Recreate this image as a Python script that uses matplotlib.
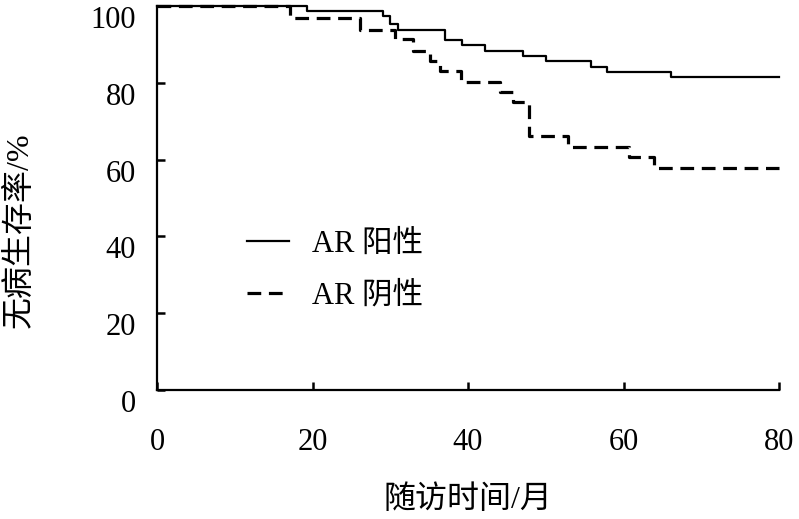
import numpy as np
import matplotlib
matplotlib.use("Agg")
import matplotlib.pyplot as plt
import matplotlib.transforms as mtransforms

plt.rcParams['font.family'] = ['Liberation Serif', 'Noto Sans CJK SC']

# Kaplan-Meier steps (months, survival %)
pos_time = [0, 19.3, 29.1, 30.0, 31.0, 37.0, 39.2, 42.2, 47.1, 50.0, 55.8, 57.9, 66.1, 80]
pos_surv = [100, 98.7, 97.5, 95.3, 93.8, 91.2, 89.9, 88.3, 87.1, 85.7, 84.2, 82.8, 81.4, 81.4]

neg_time = [0, 17.1, 26.1, 30.6, 32.9, 35.1, 36.4, 39.1, 44.1, 45.8, 47.8, 52.9, 60.7, 63.9, 80]
neg_surv = [100, 96.8, 93.8, 91.3, 88.3, 85.7, 83.0, 80.3, 77.5, 74.9, 66.2, 63.4, 60.8, 57.8, 57.8]

x_ticks = [0, 20, 40, 60, 80]
y_ticks = [0, 20, 40, 60, 80, 100]

fig = plt.figure(figsize=(7.99, 5.19), dpi=100)
ax = fig.add_axes([157/799, 1 - 390/519, 622/799, 384/519])

ax.step(pos_time, pos_surv, where="post", color="black", lw=1.6,
        label="AR 阳性", clip_on=False)
ax.step(neg_time, neg_surv, where="post", color="black", lw=2.3,
        dashes=(4.3, 2.4), label="AR 阴性", clip_on=False)

ax.set_xlim(0, 80)
ax.set_ylim(0, 100)
ax.set_xticks(x_ticks)
ax.set_yticks(y_ticks)

for s in ["top", "right"]:
    ax.spines[s].set_visible(False)
for s in ["left", "bottom"]:
    ax.spines[s].set_linewidth(1.6)

ax.tick_params(axis="both", direction="in", length=6, width=1.8, labelsize=22)
ax.tick_params(axis="x", pad=27)
ax.tick_params(axis="y", pad=15)

# y tick labels sit a bit below their ticks in the original
offset = mtransforms.ScaledTranslation(0, -11/100, fig.dpi_scale_trans)
for lab in ax.get_yticklabels():
    lab.set_transform(lab.get_transform() + offset)

ax.set_xlabel("随访时间/月", fontsize=23, labelpad=21)
ax.set_ylabel("无病生存率/%", fontsize=23)
ax.yaxis.set_label_coords(-0.197, 0.415)

leg = ax.legend(loc="upper left", bbox_to_anchor=(0.1, 0.49), frameon=False,
                fontsize=22, handlelength=1.4, handletextpad=0.75, labelspacing=0.75)

fig.savefig("out.png", dpi=100)
